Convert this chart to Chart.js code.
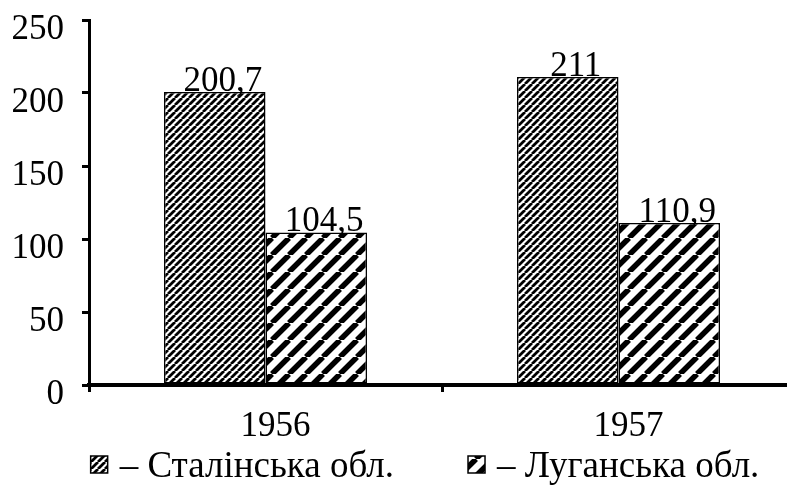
<!DOCTYPE html>
<html lang="uk">
<head>
    <meta charset="UTF-8">
    <title>Сталінська та Луганська обл.</title>
    <script src="https://cdn.jsdelivr.net/npm/chart.js@4.4.1/dist/chart.umd.min.js"></script>
    <style>
        html, body { margin: 0; padding: 0; background: #fff; overflow: hidden; }
        #wrap { width: 787px; height: 490px; overflow: hidden; }
    </style>
</head>
<body>
<div id="wrap"><canvas id="chart" width="800" height="490"></canvas></div>
<script>
// дані
var years = ['1956', '1957'];
var stalinska = [200.7, 211];
var luhanska = [104.5, 110.9];
var seriesNames = ['Сталінська обл.', 'Луганська обл.'];
var yTicks = [0, 50, 100, 150, 200, 250];

var FONT = 'Liberation Serif, Times New Roman, serif';

// штриховка "/"
function stripes(period, lw) {
    var c = document.createElement('canvas');
    c.width = period; c.height = period;
    var g = c.getContext('2d');
    g.fillStyle = '#fff';
    g.fillRect(0, 0, period, period);
    g.strokeStyle = '#000';
    g.lineWidth = lw;
    g.beginPath();
    for (var k = -1; k <= 1; k++) {
        g.moveTo(k * period, period);
        g.lineTo(k * period + period, 0);
    }
    g.stroke();
    return document.getElementById('chart').getContext('2d').createPattern(c, 'repeat');
}

var fineHatch = stripes(7, 2.8);
var wideHatch = stripes(17, 5.5);

// підписи значень над стовпчиками
var valueLabels = {
    id: 'valueLabels',
    afterDatasetsDraw: function(chart) {
        var ctx = chart.ctx;
        ctx.save();
        ctx.font = '35px ' + FONT;
        ctx.fillStyle = '#000';
        ctx.textAlign = 'center';
        ctx.textBaseline = 'alphabetic';
        chart.data.datasets.forEach(function(ds, i) {
            chart.getDatasetMeta(i).data.forEach(function(bar, j) {
                var txt = String(ds.data[j]).replace('.', ',');
                ctx.fillText(txt, bar.x + 8, bar.y - 1);
            });
        });
        ctx.restore();
    }
};

// легенда внизу: ▨ – назва
var bottomLegend = {
    id: 'bottomLegend',
    afterDraw: function(chart) {
        var ctx = chart.ctx;
        var box = 17, gap = 12, itemGap = 74, centerX = 425, baseY = 477;
        ctx.save();
        ctx.font = '37px ' + FONT;
        var items = chart.data.datasets.map(function(ds) {
            var t = '– ' + ds.label;
            return { text: t, fill: ds.backgroundColor, w: box + gap + ctx.measureText(t).width };
        });
        var total = items.reduce(function(s, it) { return s + it.w; }, 0) + itemGap * (items.length - 1);
        var x = centerX - total / 2;
        items.forEach(function(it) {
            ctx.fillStyle = it.fill;
            ctx.fillRect(x, baseY - 21, box, box);
            ctx.strokeStyle = '#000';
            ctx.lineWidth = 1.5;
            ctx.strokeRect(x, baseY - 21, box, box);
            ctx.fillStyle = '#000';
            ctx.textAlign = 'left';
            ctx.textBaseline = 'alphabetic';
            ctx.fillText(it.text, x + box + gap, baseY);
            x += it.w + itemGap;
        });
        ctx.restore();
    }
};

new Chart(document.getElementById('chart'), {
    type: 'bar',
    data: {
        labels: years,
        datasets: [{
            label: seriesNames[0],
            data: stalinska,
            backgroundColor: fineHatch,
            borderColor: '#000',
            borderWidth: 1.5,
            borderSkipped: false
        }, {
            label: seriesNames[1],
            data: luhanska,
            backgroundColor: wideHatch,
            borderColor: '#000',
            borderWidth: 1.5,
            borderSkipped: false
        }]
    },
    options: {
        responsive: false,
        animation: false,
        categoryPercentage: 0.575,
        barPercentage: 1,
        layout: { padding: { top: 20, right: 5, left: 0, bottom: 50 } },
        scales: {
            x: {
                afterFit: function(scale) {
                    scale.height = 55;
                    scale.paddingLeft = 0;
                    scale.paddingRight = 0;
                },
                grid: {
                    drawOnChartArea: false,
                    offset: true,
                    color: '#000',
                    lineWidth: 3,
                    tickLength: 7
                },
                border: { color: '#000', width: 4 },
                ticks: {
                    color: '#000',
                    font: { family: FONT, size: 35 },
                    padding: 14,
                    labelOffset: 10
                }
            },
            y: {
                min: 0,
                max: 250,
                afterFit: function(scale) {
                    scale.width = 89;
                    scale.paddingTop = 0;
                    scale.paddingBottom = 0;
                },
                afterBuildTicks: function(scale) {
                    scale.ticks = yTicks.map(function(v) { return { value: v }; });
                },
                grid: {
                    drawOnChartArea: false,
                    color: '#000',
                    lineWidth: 3,
                    tickLength: 7
                },
                border: { color: '#000', width: 3 },
                ticks: {
                    color: '#000',
                    font: { family: FONT, size: 35 },
                    padding: 18,
                    labelOffset: 10
                }
            }
        },
        plugins: {
            tooltip: { enabled: false },
            legend: { display: false }
        }
    },
    plugins: [valueLabels, bottomLegend]
});
</script>
</body>
</html>
